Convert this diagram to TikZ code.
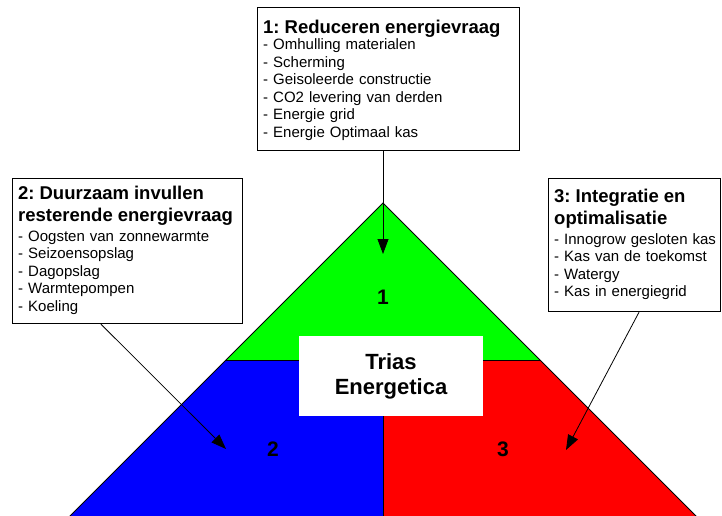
\documentclass[tikz,border=0pt]{standalone}
\usepackage{fontspec}
\setmainfont{Liberation Sans}
\usetikzlibrary{arrows.meta}
\definecolor{trigreen}{RGB}{0,255,0}
\definecolor{triblue}{RGB}{0,0,255}
\definecolor{trired}{RGB}{255,0,0}
\frenchspacing
\newcommand{\boxtitle}[1]{{\fontsize{18.5}{22.5}\selectfont\bfseries #1\par}}
\begin{document}
\begin{tikzpicture}[x=1pt,y=-1pt,
  infobox/.style={draw=black,line width=1.2pt,fill=white,rectangle,anchor=north west,inner sep=0pt},
  infotext/.style={anchor=base west,inner sep=0pt,align=left,font=\fontsize{15}{17.6}\selectfont},
  edge/.style={draw=black,line width=0.8pt},
  pointer/.style={draw=black,line width=0.8pt,-{Triangle[length=15pt,width=11pt]}},
  num/.style={font=\fontsize{21}{24}\selectfont\bfseries,inner sep=0pt}]
\useasboundingbox (0,0) rectangle (722,515);
% triangle geometry
\coordinate (apex) at (383,203);
\coordinate (ml) at (226,360);
\coordinate (mr) at (540,360);
\coordinate (mc) at (383,360);
\coordinate (bl) at (66,520);
\coordinate (br) at (700,520);
\coordinate (bc) at (383,520);
\fill[trigreen] (apex) -- (mr) -- (ml) -- cycle;
\fill[triblue] (ml) -- (mc) -- (bc) -- (bl) -- cycle;
\fill[trired] (mc) -- (mr) -- (br) -- (bc) -- cycle;
\draw[edge] (bl) -- (apex) -- (br);
\draw[edge] (ml) -- (mr);
\draw[edge] (mc) -- (bc);
% central label
\node[fill=white,minimum width=184pt,minimum height=80pt,inner sep=0pt,align=center,
      font=\fontsize{22}{25}\selectfont\bfseries] (tb) at (391,376) {Trias\\Energetica};
% numbers
\node[num] (n1) at (383,297) {1};
\node[num] (n2) at (273,449) {2};
\node[num] (n3) at (503,449) {3};
% box 1
\node[infobox,minimum width=262pt,minimum height=143pt] (b1) at (257,7) {};
\node[infotext,text width=255pt] (t1) at (263,33) {\boxtitle{1: Reduceren energievraag}\vspace{-1.1pt}%
- Omhulling materialen\\- Scherming\\- Geisoleerde constructie\\- CO2 levering van derden\\- Energie grid\\- Energie Optimaal kas};
% box 2
\node[infobox,minimum width=230pt,minimum height=145pt] (b2) at (12,178) {};
\node[infotext,text width=228pt] (t2) at (18,199) {\boxtitle{2: Duurzaam invullen\\resterende energievraag}\vspace{2pt}%
- Oogsten van zonnewarmte\\- Seizoensopslag\\- Dagopslag\\- Warmtepompen\\- Koeling};
% box 3
\node[infobox,minimum width=172pt,minimum height=133pt] (b3) at (548,178) {};
\node[infotext,text width=168pt] (t3) at (554,202) {\boxtitle{3: Integratie en\\optimalisatie}\vspace{2pt}%
- Innogrow gesloten kas\\- Kas van de toekomst\\- Watergy\\- Kas in energiegrid};
% arrows
\coordinate (a1s) at (b1.south -| apex);
\coordinate (a1t) at (383,254);
\coordinate (a2s) at ([xshift=89pt]b2.south west);
\coordinate (a2t) at (226,449);
\coordinate (a3s) at ([xshift=91pt]b3.south west);
\coordinate (a3t) at (566,450);
\draw[pointer] (a1s) -- (a1t);
\draw[pointer] (a2s) -- (a2t);
\draw[pointer] (a3s) -- (a3t);
\end{tikzpicture}
\end{document}
